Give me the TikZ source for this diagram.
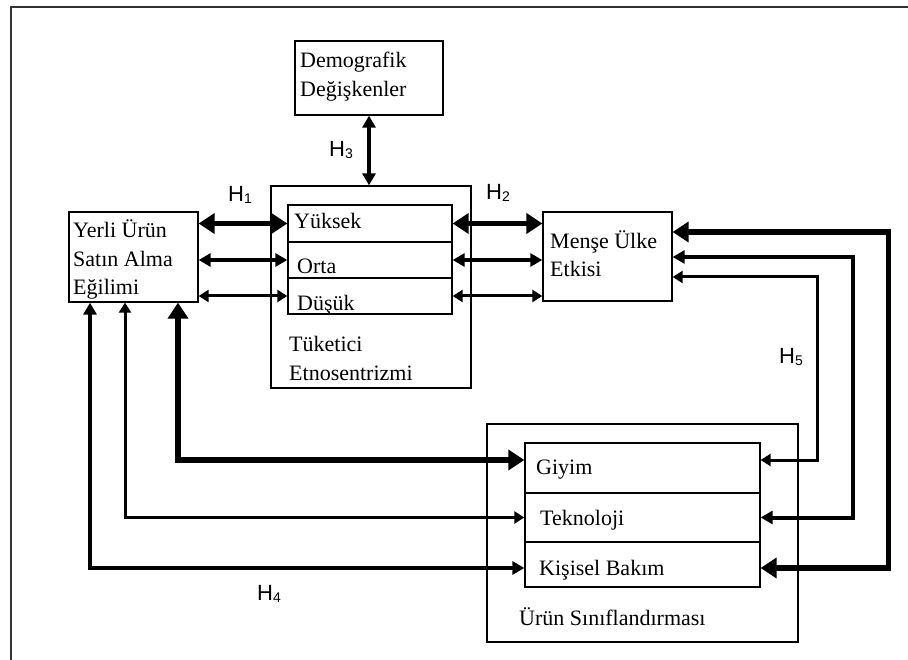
\documentclass[tikz,border=0pt]{standalone}
\usepackage{fontspec}
\setmainfont{Liberation Serif}
\setsansfont{Liberation Sans}
\usetikzlibrary{arrows.meta, positioning, calc}

\tikzset{
  box/.style={draw, line width=1.3pt, inner sep=0pt},
  txt/.style={font=\fontsize{22}{26}\selectfont, anchor=base west, inner sep=0pt},
  hyp/.style={font=\sffamily\fontsize{22}{26}\selectfont, anchor=base west, inner sep=0pt},
  heavy/.style={line width=5.5pt, >={Triangle[length=16pt,width=20pt]}, <->},
  mid/.style={line width=4pt, >={Triangle[length=12pt,width=13pt]}, <->},
  light/.style={line width=3pt, >={Triangle[length=10pt,width=12pt]}, <->},
}
\newcommand{\hlab}[1]{H\raisebox{-2pt}{\fontsize{14}{14}\selectfont #1}}

\begin{document}
\begin{tikzpicture}[x=1pt,y=-1pt]
\useasboundingbox (0,0) rectangle (908,660);
% frame
\draw[line width=2pt, black!80] (11,660) -- (11,7) -- (908,7);

% Demografik
\node[box, minimum width=148pt, minimum height=74pt] (dem) at (369,78) {};
\node[txt] (dem-a) at (300,68) {Demografik};
\node[txt] (dem-b) at (300,97) {Değişkenler};

% Tuketici
\node[box, minimum width=200pt, minimum height=202pt] (tuk) at (371,287) {};
\foreach \n/\y/\h in {yuk/223.5/37, orta/260/36, dusuk/296/36}
  \node[box, minimum width=164pt, minimum height=\h pt] (\n) at (370,\y) {};
\node[txt] (yuk-t) at (294,229) {Yüksek};
\node[txt] (orta-t) at (297,274) {Orta};
\node[txt] (dusuk-t) at (297,311) {Düşük};
\node[txt] (tuk-a) at (289,352) {Tüketici};
\node[txt] (tuk-b) at (289,381) {Etnosentrizmi};

% Yerli
\node[box, minimum width=129pt, minimum height=90pt] (yerli) at (133.5,257) {};
\node[txt] (yerli-a) at (73,238) {Yerli Ürün};
\node[txt] (yerli-b) at (73,267) {Satın Alma};
\node[txt] (yerli-c) at (73,295) {Eğilimi};

% Mense
\node[box, minimum width=129pt, minimum height=89pt] (mense) at (607.5,256.5) {};
\node[txt] (mense-a) at (550,249) {Menşe Ülke};
\node[txt] (mense-b) at (550,277) {Etkisi};

% Urun
\node[box, minimum width=311pt, minimum height=218pt] (urun) at (642.5,533) {};
\foreach \n/\y/\h in {giyim/468/50, tekno/517.5/49, kisisel/564.5/45}
  \node[box, minimum width=235pt, minimum height=\h pt] (\n) at (642.5,\y) {};
\node[txt] (giyim-t) at (536,474) {Giyim};
\node[txt] (tekno-t) at (540,525) {Teknoloji};
\node[txt] (kisisel-t) at (539,575) {Kişisel Bakım};
\node[txt] (urun-t) at (519,625) {Ürün Sınıflandırması};

% H1, H2
\foreach \r/\s in {yuk/heavy, orta/mid, dusuk/light} {
  \draw[\s] (\r.west -| yerli.east) -- (\r.west);
  \draw[\s] (\r.east) -- (\r.east -| mense.west);
}
% H3
\draw[mid] (dem.south) -- (dem.south |- tuk.north);

% H4
\draw[heavy] ($(giyim.west)+(0,-8)$) -| ($(yerli.south)+(44.5,0)$);
\draw[light] (tekno.west) -| ($(yerli.south)+(-8.5,0)$);
\draw[mid] ($(kisisel.west)+(0,3.5)$) -| ($(yerli.south)+(-43.5,0)$);

% H5
\draw[heavy] ($(mense.east)+(0,-24.5)$) -| ($(kisisel.east)+(128,3.5)$) -- ($(kisisel.east)+(0,3.5)$);
\draw[mid] ($(mense.east)+(0,0.5)$) -| ($(tekno.east)+(92,0)$) -- (tekno.east);
\draw[light] ($(mense.east)+(0,20.5)$) -| ($(giyim.east)+(57,-8)$) -- ($(giyim.east)+(0,-8)$);

% labels
\node[hyp] (h1) at (228,202) {\hlab{1}};
\node[hyp] (h2) at (486,200) {\hlab{2}};
\node[hyp] (h3) at (329,157) {\hlab{3}};
\node[hyp] (h4) at (257,600) {\hlab{4}};
\node[hyp] (h5) at (779,363) {\hlab{5}};
\end{tikzpicture}
\end{document}
